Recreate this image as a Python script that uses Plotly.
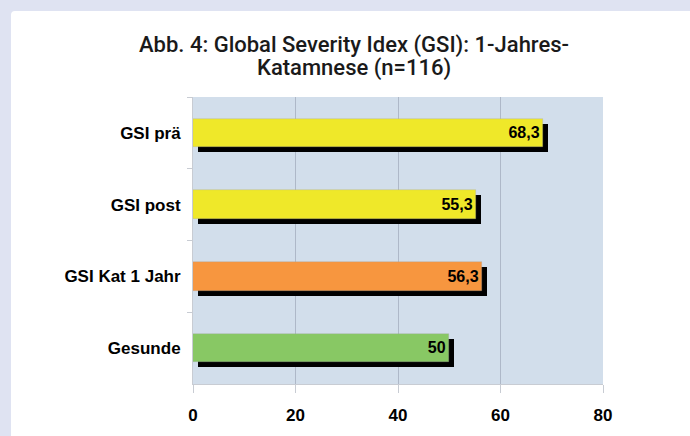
import plotly.graph_objects as go

categories = ["GSI prä", "GSI post", "GSI Kat 1 Jahr", "Gesunde"]
values = [68.3, 55.3, 56.3, 50]
bar_colors = ["#efe829", "#efe829", "#f7963f", "#88c864"]
x_ticks = [0, 20, 40, 60, 80]
title_lines = ["Abb. 4: Global Severity Idex (GSI): 1-Jahres-", "Katamnese (n=116)"]

W, H = 690, 436
L, R, T, B = 193, 87, 97, 52
plot_w = W - L - R
plot_h = H - T - B
x_max = 80
bar_w = 0.40
px_per_unit = plot_w / x_max
px_per_cat = plot_h / len(categories)
shadow_px = 5
dx = shadow_px / px_per_unit
dy = shadow_px / px_per_cat

fig = go.Figure()
# shadow
fig.add_trace(go.Bar(
    y=categories, x=values, base=[dx] * len(values), orientation="h",
    width=bar_w, offset=-bar_w / 2 + dy,
    marker=dict(color="#000000", line=dict(width=0)),
    hoverinfo="skip", showlegend=False,
))
# bars
fig.add_trace(go.Bar(
    y=categories, x=values, orientation="h",
    width=bar_w, offset=-bar_w / 2,
    marker=dict(color=bar_colors, line=dict(color="rgba(160,160,160,0.5)", width=0.6)),
    texttemplate="%{x}", textposition="inside", insidetextanchor="end",
    textfont=dict(family="Liberation Sans, Arial, sans-serif", size=16, color="#000000",
                  weight="bold"),
    constraintext="none",
    showlegend=False,
))

lav = "#dfe3f2"
path = ("M -193 97 L 497 97 L 497 86 L -178 86 Q -182 86 -182 82 "
        "L -182 -339 L -193 -339 Z")

title_font = dict(family="Roboto, sans-serif", size=22, color="#1a1a1a", weight=500)
annotations = []
for line, y_px in zip(title_lines, [44.5, 67.5]):
    annotations.append(dict(
        text=line, xref="paper", yref="paper",
        x=(354 - L) / plot_w, y=(H - B - y_px) / plot_h,
        xanchor="center", yanchor="middle", showarrow=False, font=title_font,
    ))

fig.update_layout(
    width=W, height=H,
    margin=dict(l=L, r=R, t=T, b=B, pad=0),
    paper_bgcolor="#ffffff",
    plot_bgcolor="#d2deeb",
    barmode="overlay",
    separators=",.",
    bargap=0,
    annotations=annotations,
    xaxis=dict(
        range=[0, x_max], tickvals=x_ticks, showgrid=True, gridcolor="#aeb8c8", gridwidth=1,
        zeroline=False, showline=True, linecolor="#c8ccd3", linewidth=1,
        ticks="outside", ticklen=8, tickcolor="#c8ccd3",
        tickfont=dict(family="Liberation Sans, Arial, sans-serif", size=17, color="#000000",
                      weight="bold"),
        ticklabelstandoff=8, fixedrange=True,
    ),
    yaxis=dict(
        autorange="reversed", showgrid=False, zeroline=False,
        showline=True, linecolor="#c8ccd3", linewidth=1,
        ticks="outside", ticklen=5, tickcolor="#c8ccd3", tickson="boundaries",
        tickfont=dict(family="Liberation Sans, Arial, sans-serif", size=17, color="#000000",
                      weight="bold"),
        ticklabelstandoff=8, fixedrange=True,
    ),
    shapes=[dict(
        type="path", xref="paper", yref="paper", xsizemode="pixel", ysizemode="pixel",
        xanchor=0, yanchor=1, path=path, fillcolor=lav, line=dict(width=0), layer="below",
    )],
)

fig.write_html(
    "out.html",
    config={"displayModeBar": False},
    post_script="document.body.style.margin='0';document.body.style.padding='0';",
)
